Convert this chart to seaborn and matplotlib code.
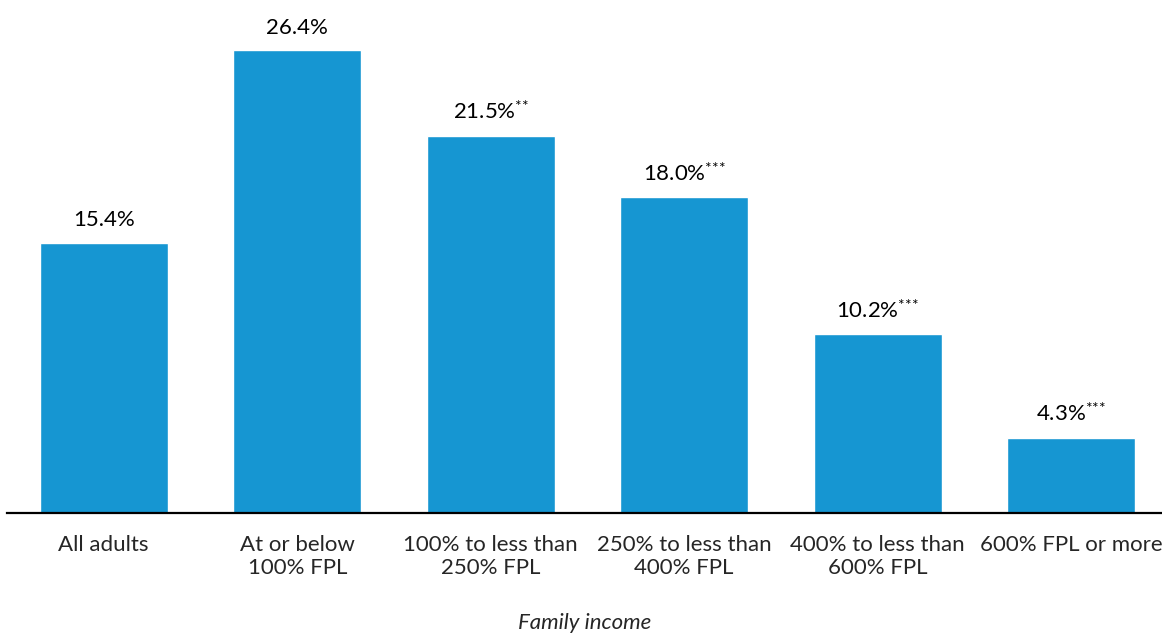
import pandas as pd
import matplotlib
matplotlib.use("Agg")
import matplotlib.pyplot as plt
import seaborn as sns

categories = [
    "All adults",
    "At or below\n100% FPL",
    "100% to less than\n250% FPL",
    "250% to less than\n400% FPL",
    "400% to less than\n600% FPL",
    "600% FPL or more",
]
values = [15.4, 26.4, 21.5, 18.0, 10.2, 4.3]
stars = [0, 0, 2, 3, 3, 3]

df = pd.DataFrame({"group": categories, "share": values})

sns.set_style("white")
plt.rcParams["font.family"] = ["Lato", "DejaVu Sans"]
plt.rcParams["mathtext.fontset"] = "custom"
plt.rcParams["mathtext.rm"] = "Lato"
plt.rcParams["mathtext.it"] = "Lato"

fig = plt.figure(figsize=(11.62, 6.34), dpi=100)
ax = fig.add_axes([7 / 1162, 0.1909, (1162 - 7) / 1162, 0.7744])

sns.barplot(
    data=df,
    x="group",
    y="share",
    color="#1696d2",
    saturation=1,
    width=0.662,
    ax=ax,
)

# value labels, significance stars as superscript
for i, (v, n) in enumerate(zip(values, stars)):
    label = f"{v:.1f}%"
    if n:
        label += "$^{" + "{*}" * n + "}$"
    ax.annotate(
        label,
        (i, v),
        xytext=(0, 9),
        textcoords="offset points",
        ha="center",
        va="bottom",
        fontsize=16,
        color="#000000",
    )

ax.set_xlim(-0.5, 5.47)
ax.set_ylim(0, 28)
ax.set_yticks([])
ax.set_ylabel("")
ax.set_xlabel("Family income", fontsize=16, style="italic", labelpad=25)
ax.tick_params(axis="x", length=0, pad=16, labelsize=16)

for side in ["top", "left", "right"]:
    ax.spines[side].set_visible(False)
ax.spines["bottom"].set_color("black")
ax.spines["bottom"].set_linewidth(1.6)

fig.savefig("out.png", dpi=100)
